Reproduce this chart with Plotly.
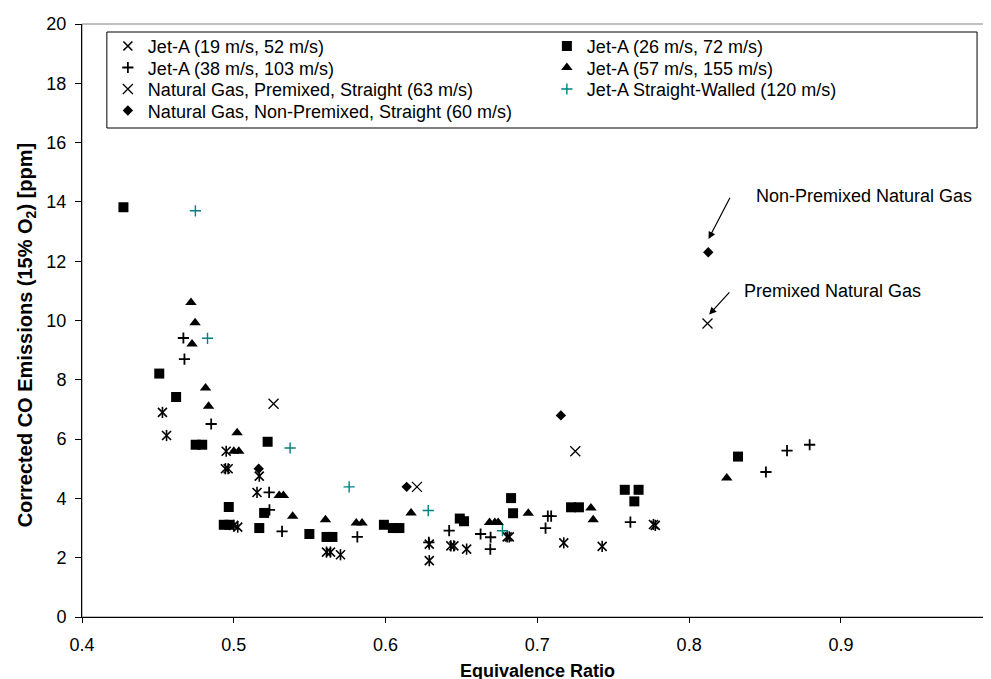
import plotly.graph_objects as go

# ---------------- data ----------------
jetA_19_x = [0.4530, 0.4557, 0.4950, 0.4945, 0.4963, 0.5168, 0.5153, 0.5000, 0.5026,
             0.5611, 0.5637, 0.5703, 0.6288, 0.6288, 0.6430, 0.6450, 0.6534, 0.6801,
             0.6815, 0.7174, 0.7427, 0.7765, 0.7777]
jetA_19_y = [6.90, 6.12, 5.59, 5.00, 5.00, 4.75, 4.20, 3.09, 3.03,
             2.19, 2.19, 2.10, 2.46, 1.90, 2.40, 2.40, 2.29, 2.70,
             2.70, 2.50, 2.38, 3.12, 3.09]

jetA_26_x = [0.4273, 0.4509, 0.4620, 0.4749, 0.4792, 0.5223, 0.4967, 0.4934, 0.4971,
             0.5168, 0.5200, 0.5498, 0.5611, 0.5650, 0.5989, 0.6048, 0.6091, 0.6489,
             0.6517, 0.6827, 0.6840, 0.7222, 0.7274, 0.7576, 0.7667, 0.7639, 0.8322]
jetA_26_y = [13.82, 8.21, 7.42, 5.81, 5.81, 5.91, 3.71, 3.11, 3.11,
             3.00, 3.51, 2.80, 2.70, 2.70, 3.11, 3.00, 3.00, 3.32,
             3.23, 4.01, 3.50, 3.70, 3.70, 4.29, 4.29, 3.90, 5.41]

jetA_38_x = [0.4668, 0.4675, 0.4851, 0.5233, 0.5235, 0.5318, 0.5814, 0.6285, 0.6419,
             0.6626, 0.6692, 0.6690, 0.7069, 0.7091, 0.7054, 0.7613, 0.8506, 0.8645, 0.8794]
jetA_38_y = [9.41, 8.70, 6.51, 4.20, 3.61, 2.89, 2.70, 2.52, 2.91,
             2.80, 2.69, 2.29, 3.40, 3.40, 3.00, 3.20, 4.89, 5.61, 5.81]

jetA_57_x = [0.4718, 0.4745, 0.4725, 0.4814, 0.4834, 0.5022, 0.5000, 0.5033, 0.5299,
             0.5327, 0.5388, 0.5604, 0.5807, 0.5845, 0.6168, 0.6685, 0.6720, 0.6742,
             0.6940, 0.7353, 0.7368, 0.8248]
jetA_57_y = [10.61, 9.92, 9.21, 7.72, 7.11, 6.21, 5.59, 5.59, 4.10,
             4.10, 3.40, 3.28, 3.17, 3.17, 3.51, 3.19, 3.19, 3.19,
             3.50, 3.68, 3.28, 4.69]

ng_pre_x = [0.5262, 0.6207, 0.7250, 0.8121]
ng_pre_y = [7.19, 4.39, 5.59, 9.90]

jetA_sw_x = [0.4747, 0.4827, 0.5371, 0.5760, 0.6281, 0.6770]
jetA_sw_y = [13.70, 9.40, 5.70, 4.39, 3.59, 2.91]

ng_np_x = [0.5164, 0.6139, 0.7155, 0.8126]
ng_np_y = [5.00, 4.39, 6.80, 12.30]

x_ticks = [0.4, 0.5, 0.6, 0.7, 0.8, 0.9, 1.0]
x_tick_labels = ["0.4", "0.5", "0.6", "0.7", "0.8", "0.9", "1"]
y_ticks = [0, 2, 4, 6, 8, 10, 12, 14, 16, 18, 20]

names = ["Jet-A (19 m/s, 52 m/s)", "Jet-A (26 m/s, 72 m/s)",
         "Jet-A (38 m/s, 103 m/s)", "Jet-A (57 m/s, 155 m/s)",
         "Natural Gas, Premixed, Straight (63 m/s)",
         "Jet-A Straight-Walled (120 m/s)",
         "Natural Gas, Non-Premixed, Straight (60 m/s)"]

x_title = "Equivalence Ratio"
y_title = "Corrected CO Emissions (15% O<sub>2</sub>) [ppm]"

# annotations (text, x, y)
note_np = ("Non-Premixed Natural Gas", 0.8427, 14.19)
note_p = ("Premixed Natural Gas", 0.8350, 11.0)
arrow_np = (0.8274, 14.19, 0.8128, 12.75)
arrow_p = (0.8274, 11.0, 0.8132, 10.20)

FONT = "Liberation Sans, Arial, sans-serif"
FS = 18
BLACK = "#000000"
TEAL = "#008080"

fig = go.Figure()

# Jet-A 19/52: x + vertical line overlay
fig.add_trace(go.Scatter(x=jetA_19_x, y=jetA_19_y, mode="markers", name=names[0],
                         marker=dict(symbol="x-thin", size=9, color=BLACK,
                                     line=dict(color=BLACK, width=1.6)),
                         legend="legend", legendgroup="g0"))
fig.add_trace(go.Scatter(x=jetA_19_x, y=jetA_19_y, mode="markers", showlegend=False,
                         marker=dict(symbol="line-ns", size=8, color=BLACK,
                                     line=dict(color=BLACK, width=1.6)),
                         legend="legend", legendgroup="g0", hoverinfo="skip"))
fig.add_trace(go.Scatter(x=jetA_26_x, y=jetA_26_y, mode="markers", name=names[1],
                         marker=dict(symbol="square", size=10, color=BLACK,
                                     line=dict(width=0)),
                         legend="legend"))
fig.add_trace(go.Scatter(x=jetA_38_x, y=jetA_38_y, mode="markers", name=names[2],
                         marker=dict(symbol="cross-thin", size=8, color=BLACK,
                                     line=dict(color=BLACK, width=1.8)),
                         legend="legend2"))
fig.add_trace(go.Scatter(x=jetA_57_x, y=jetA_57_y, mode="markers", name=names[3],
                         marker=dict(symbol="triangle-up", size=10, color=BLACK,
                                     line=dict(width=0)),
                         legend="legend2"))
fig.add_trace(go.Scatter(x=ng_pre_x, y=ng_pre_y, mode="markers", name=names[4],
                         marker=dict(symbol="x-thin", size=10, color=BLACK,
                                     line=dict(color=BLACK, width=1.3)),
                         legend="legend3"))
fig.add_trace(go.Scatter(x=jetA_sw_x, y=jetA_sw_y, mode="markers", name=names[5],
                         marker=dict(symbol="cross-thin", size=8, color=TEAL,
                                     line=dict(color=TEAL, width=1.4)),
                         legend="legend3"))
fig.add_trace(go.Scatter(x=ng_np_x, y=ng_np_y, mode="markers", name=names[6],
                         marker=dict(symbol="diamond", size=8, color=BLACK,
                                     line=dict(width=0)),
                         legend="legend4"))

annotations = []
for txt, ax_, ay_ in [note_np, note_p]:
    annotations.append(dict(x=ax_, y=ay_, xref="x", yref="y", text=txt,
                            showarrow=False, xanchor="left", yanchor="middle",
                            font=dict(family=FONT, size=FS, color=BLACK)))
for tx, ty, hx, hy in [arrow_np, arrow_p]:
    annotations.append(dict(x=hx, y=hy, ax=tx, ay=ty, xref="x", yref="y",
                            axref="x", ayref="y", text="", showarrow=True,
                            arrowhead=2, arrowsize=1.2, arrowwidth=1.2,
                            arrowcolor=BLACK, standoff=0))
# y-axis title (rotated)
annotations.append(dict(x=-0.0611, y=0.4755, xref="paper", yref="paper",
                        text="<b>" + y_title + "</b>", textangle=-90,
                        showarrow=False, xanchor="center", yanchor="middle",
                        font=dict(family=FONT, size=20, color=BLACK)))


def row_legend(ypos):
    return dict(orientation="h", x=0.0284, y=ypos, xanchor="left", yanchor="top",
                bgcolor="rgba(0,0,0,0)", borderwidth=0,
                entrywidth=394, entrywidthmode="pixels",
                font=dict(family=FONT, size=FS, color=BLACK),
                traceorder="normal", itemwidth=30)


fig.update_layout(
    width=991, height=679,
    margin=dict(l=74, r=1, t=16, b=70),
    paper_bgcolor="white", plot_bgcolor="white",
    font=dict(family=FONT, size=FS, color=BLACK),
    showlegend=True,
    legend=row_legend(0.9936),
    legend2=row_legend(0.9573),
    legend3=row_legend(0.9211),
    legend4=row_legend(0.8848),
    annotations=annotations,
    shapes=[
        dict(type="rect", xref="paper", yref="paper", x0=0, y0=0, x1=1, y1=1,
             line=dict(color="#808080", width=1), layer="below"),
        dict(type="rect", xref="paper", yref="paper", x0=0.0273, y0=0.8246,
             x1=0.9825, y1=0.9865, line=dict(color=BLACK, width=1),
             fillcolor="white", layer="above"),
    ],
)

fig.update_xaxes(range=[0.4, 1.0002], tickvals=x_ticks, ticktext=x_tick_labels,
                 showgrid=False, zeroline=False, showline=True, linecolor=BLACK,
                 linewidth=1, ticks="outside", ticklen=5, tickcolor=BLACK,
                 ticklabelstandoff=6, ticklabeloverflow="allow",
                 tickfont=dict(family=FONT, size=FS, color=BLACK),
                 title=dict(text="<b>" + x_title + "</b>", standoff=10,
                            font=dict(family=FONT, size=FS, color=BLACK)))
fig.update_yaxes(range=[0, 20], tickvals=y_ticks,
                 showgrid=False, zeroline=False, showline=True, linecolor=BLACK,
                 linewidth=1, ticks="outside", ticklen=6, tickcolor=BLACK,
                 ticklabelstandoff=5,
                 tickfont=dict(family=FONT, size=FS, color=BLACK))

fig.write_html("out.html")
